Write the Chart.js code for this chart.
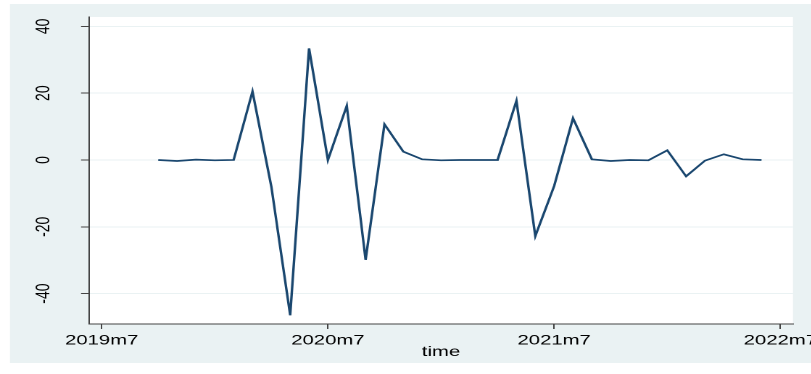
<!DOCTYPE html>
<html>
<head>
<meta charset="utf-8">
<script src="https://cdn.jsdelivr.net/npm/chart.js@4.4.1/dist/chart.umd.min.js"></script>
<style>
  html, body { margin: 0; padding: 0; background: #fff; overflow: hidden; }
  /* the reference picture is stretched sideways, so the whole chart is too */
  #wrap { width: 560px; height: 374px; transform: scaleX(1.45); transform-origin: 0 0; }
</style>
</head>
<body>
<div id="wrap"><canvas id="chart" width="560" height="374"></canvas></div>
<script>
// monthly values, Stata style dates
const months = [
  "2019m10","2019m11","2019m12","2020m1","2020m2","2020m3","2020m4","2020m5",
  "2020m6","2020m7","2020m8","2020m9","2020m10","2020m11","2020m12","2021m1",
  "2021m2","2021m3","2021m4","2021m5","2021m6","2021m7","2021m8","2021m9",
  "2021m10","2021m11","2021m12","2022m1","2022m2","2022m3","2022m4","2022m5","2022m6"
];
const values = [
  0, -0.3, 0.1, -0.1, 0, 20.5, -8, -46.5,
  33.4, 0, 16.2, -29.9, 10.7, 2.5, 0.2, -0.1,
  0, 0, 0, 17.7, -22.8, -7.8, 12.5, 0.2,
  -0.3, 0, -0.1, 2.9, -4.9, -0.2, 1.7, 0.2, 0
];
const xTickLabels = ["2019m7", "2020m7", "2021m7", "2022m7"];
const yTicks = [-40, -20, 0, 20, 40];

const FONT = "'Liberation Sans', Arial, sans-serif";

// months since 2019m7
function monthNum(s){
  const [y, m] = s.split("m").map(Number);
  return (y - 2019) * 12 + (m - 7);
}

const points = months.map((m, i) => ({ x: monthNum(m), y: values[i] }));

const bgPlugin = {
  id: "bg",
  beforeDraw(chart){
    const c = chart.ctx, a = chart.chartArea;
    c.save();
    c.fillStyle = "#ffffff";
    c.fillRect(0, 0, chart.width, chart.height);
    c.fillStyle = "#eaf2f3";
    c.fillRect(6.9, 4, chart.width, 359);
    c.fillStyle = "#ffffff";
    c.fillRect(a.left, a.top, a.right - a.left, a.bottom - a.top);
    c.restore();
  }
};

new Chart(document.getElementById("chart").getContext("2d"), {
  type: "line",
  data: {
    datasets: [{
      data: points,
      borderColor: "#1a476f",
      borderWidth: 1.7,
      pointRadius: 0,
      tension: 0,
      fill: false
    }]
  },
  options: {
    responsive: false,
    animation: false,
    devicePixelRatio: 2,
    layout: { padding: { top: 17, right: 13.1, left: 0, bottom: 0 } },
    plugins: { legend: { display: false }, tooltip: { enabled: false } },
    scales: {
      x: {
        type: "linear",
        min: -0.67, max: 36.67,
        afterBuildTicks: s => { s.ticks = xTickLabels.map(l => ({ value: monthNum(l) })); },
        afterFit: s => { s.height = 50; s.paddingLeft = 0; s.paddingRight = 0; },
        ticks: {
          autoSkip: false, maxRotation: 0, padding: 3, color: "#000",
          font: { size: 14, family: FONT },
          callback: v => xTickLabels.find(l => monthNum(l) === v) || ""
        },
        grid: { drawOnChartArea: false, tickColor: "#444", tickLength: 5 },
        border: { color: "#444", width: 1 },
        title: {
          display: true, text: "time", color: "#000",
          font: { size: 14, family: FONT },
          padding: { top: 0, bottom: 13.4 }
        }
      },
      y: {
        min: -49.1, max: 42.8,
        afterBuildTicks: s => { s.ticks = yTicks.map(v => ({ value: v })); },
        afterFit: s => { s.width = 61.4; s.paddingTop = 0; s.paddingBottom = 0; },
        ticks: {
          minRotation: 90, maxRotation: 90, crossAlign: "center", padding: 15.5,
          color: "#000", font: { size: 14, family: FONT }
        },
        grid: { color: "#eaf2f3", tickColor: "#444", tickLength: 5.5, lineWidth: 1 },
        border: { color: "#444", width: 1 }
      }
    }
  },
  plugins: [bgPlugin]
});
</script>
</body>
</html>
